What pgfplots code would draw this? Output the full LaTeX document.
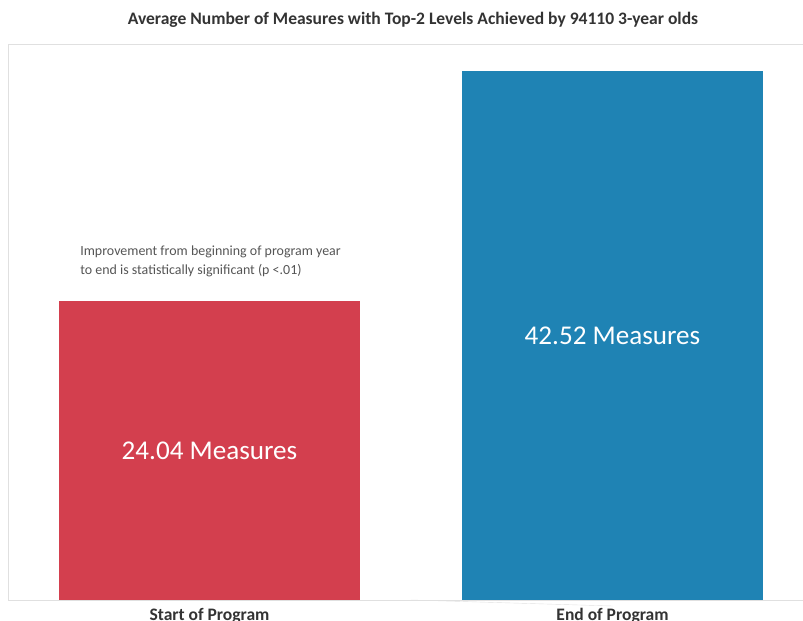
\documentclass[border=0pt]{standalone}
\usepackage{pgfplots}
\pgfplotsset{compat=1.18}
\usepackage{fontspec}
\setmainfont{Carlito}
\definecolor{barred}{RGB}{211,63,78}
\definecolor{barblue}{RGB}{31,131,180}
\definecolor{titlegray}{RGB}{51,51,51}
\definecolor{notegray}{RGB}{85,85,85}
\begin{document}
\begin{tikzpicture}[x=1bp,y=1bp]
\path[use as bounding box] (0,0) rectangle (803,621);
\node[font=\bfseries\fontsize{17.6}{17.6}\selectfont, text=titlegray] at (413,601) {Average Number of Measures with Top-2 Levels Achieved by 94110 3-year olds};
\begin{axis}[at={(8bp,21bp)}, anchor=south west, scale only axis,
  width=806bp, height=556bp,
  xmin=-0.5, xmax=1.5, ymin=0, ymax=44.69,
  ybar, bar width=0.747, bar shift=0pt,
  ytick=\empty, xtick={0,1}, xticklabels={Start of Program, End of Program},
  major tick length=0pt,
  axis line style={draw=black!12},
  xticklabel style={font=\bfseries\fontsize{17.6}{17.6}\selectfont, text=titlegray, inner sep=0pt, anchor=north, yshift=-8bp},
  clip=false]
\addplot[fill=barred, draw=none] coordinates {(0,24.04)};
\addplot[fill=barblue, draw=none] coordinates {(1,42.52)};
\draw[black!12] (axis cs:0.5,0) -- ++(0,-6bp);
\node[text=white, font=\fontsize{27.2}{27.2}\selectfont] at (axis cs:0,12.02) {24.04 Measures};
\node[text=white, font=\fontsize{27.2}{27.2}\selectfont] at (axis cs:1,21.26) {42.52 Measures};
\node[anchor=north west, align=left, text=notegray, font=\fontsize{14}{19}\selectfont, inner sep=0pt] at (axis cs:-0.321,28.45) {Improvement from beginning of program year\\to end is statistically significant (p <.01)};
\end{axis}
\end{tikzpicture}
\end{document}
